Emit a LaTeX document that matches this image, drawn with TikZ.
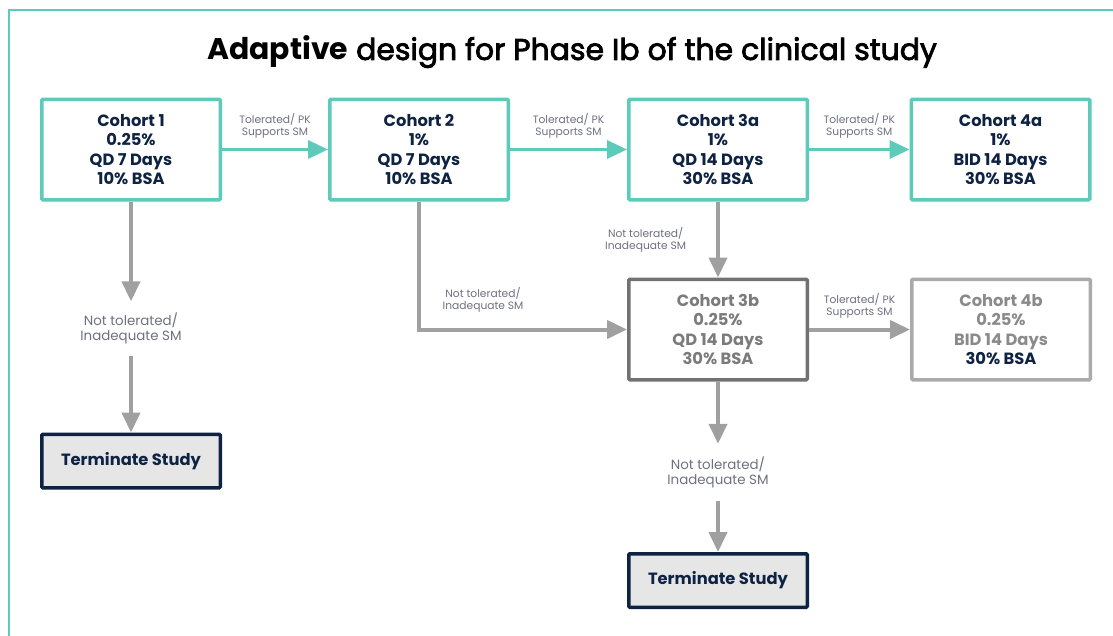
\documentclass[tikz,border=0pt]{standalone}
\usepackage{fontspec}
\setmainfont{Poppins}
\newfontfamily\semib{Poppins}[FakeBold=2.6]
\usetikzlibrary{arrows.meta}
\definecolor{tealc}{HTML}{5CCBBA}
\definecolor{navy}{HTML}{0E2343}
\definecolor{arrgray}{HTML}{A0A0A0}
\definecolor{dgray}{HTML}{727272}
\definecolor{lgray}{HTML}{AAAAAA}
\definecolor{txtdgray}{HTML}{7B7B7B}
\definecolor{txtlgray}{HTML}{8A8A8A}
\definecolor{lblgray}{HTML}{6E7080}
\definecolor{tfill}{HTML}{E6E6E6}
\begin{document}
\begin{tikzpicture}[x=1pt,y=-1pt,
  box/.style={draw, line width=3.5pt, minimum width=178.5pt, minimum height=100.5pt,
    align=center, inner sep=0pt, rounded corners=1pt,
    font=\bfseries\fontsize{16.3}{19.6}\selectfont, text=navy},
  tealbox/.style={box, draw=tealc},
  termbox/.style={box, draw=navy, fill=tfill, minimum height=53.5pt},
  smalllbl/.style={align=center, text=lblgray, font=\fontsize{10.7}{12}\selectfont, inner sep=0pt},
  biglbl/.style={align=center, text=lblgray, font=\fontsize{13.4}{15}\selectfont, inner sep=0pt},
  tarrow/.style={draw=tealc, line width=3.5pt, -{Triangle[length=20pt,width=18pt]}},
  garrow/.style={draw=arrgray, line width=4pt, -{Triangle[length=20pt,width=18pt]}},
]
\useasboundingbox (0,0) rectangle (1113,635);
\begin{scope}
\clip (0,0) rectangle (1113,635);
\draw[tealc, line width=2pt] (9,10) rectangle (1130,660);
\end{scope}

\node[font=\fontsize{29.9}{34}\selectfont] (title) at (572,52) {\textbf{Adaptive} {\semib design for Phase Ib of the clinical study}};

\node[tealbox] (c1) at (131,149.5) {Cohort 1\\0.25\%\\QD 7 Days\\10\% BSA};
\node[tealbox] (c2) at (419,149.5) {Cohort 2\\1\%\\QD 7 Days\\10\% BSA};
\node[tealbox] (c3a) at (718,149.5) {Cohort 3a\\1\%\\QD 14 Days\\30\% BSA};
\node[tealbox] (c4a) at (1000.5,149.5) {Cohort 4a\\1\%\\BID 14 Days\\30\% BSA};
\node[box, draw=dgray, text=txtdgray] (c3b) at (718,329.5) {Cohort 3b\\0.25\%\\QD 14 Days\\30\% BSA};
\node[box, draw=lgray, text=txtlgray] (c4b) at (1001,329.5) {Cohort 4b\\0.25\%\\BID 14 Days\\\textcolor{navy}{30\% BSA}};
\node[termbox] (t1) at (131,461) {Terminate Study};
\node[termbox] (t2) at (718,580.5) {Terminate Study};

% split labels
\node[biglbl, minimum height=54pt] (l1) at (131,328.5) {Not tolerated/\\Inadequate SM};
\node[biglbl, minimum height=57pt] (l2) at (718,472.5) {Not tolerated/\\Inadequate SM};

% teal arrows
\draw[tarrow] (c1) -- node[smalllbl, above=9pt] {Tolerated/ PK\\Supports SM} (c2);
\draw[tarrow] (c2) -- node[smalllbl, above=9pt] {Tolerated/ PK\\Supports SM} (c3a);
\draw[tarrow] (c3a) -- node[smalllbl, above=9pt] {Tolerated/ PK\\Supports SM} (c4a);

% gray arrows
\draw[garrow] (c3b) -- node[smalllbl, above=9pt] {Tolerated/ PK\\Supports SM} (c4b);
\draw[garrow] (c1) -- (l1);
\draw[garrow] (l1) -- (t1);
\draw[garrow] (c3b) -- (l2);
\draw[garrow] (l2) -- (t2);
\draw[garrow] (c3a) -- node[smalllbl, left=30pt] {Not tolerated/\\Inadequate SM} (c3b);
\draw[garrow] (c2.south) |- node[smalllbl, pos=0.654, above=15.5pt] {Not tolerated/\\Inadequate SM} (c3b.west);
\end{tikzpicture}
\end{document}
